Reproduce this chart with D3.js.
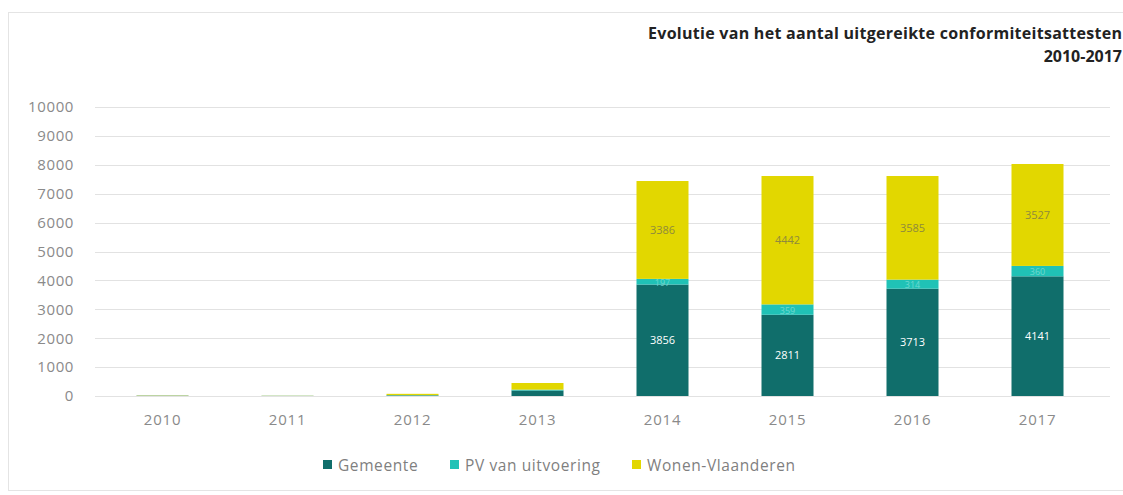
<!DOCTYPE html>
<html>
<head>
<meta charset="utf-8">
<script src="https://cdn.jsdelivr.net/npm/d3@7"></script>
<style>
  body { margin: 0; background: #fff; }
  svg { display: block; font-family: 'Open Sans', sans-serif; }
</style>
</head>
<body>
<script>
const years = ['2010', '2011', '2012', '2013', '2014', '2015', '2016', '2017'];
const gemeente = [10, 5, 20, 190, 3856, 2811, 3713, 4141];
const pvUitvoering = [2, 2, 10, 30, 197, 359, 314, 360];
const wonenVlaanderen = [8, 5, 45, 230, 3386, 4442, 3585, 3527];
const seriesNames = ['Gemeente', 'PV van uitvoering', 'Wonen-Vlaanderen'];
const yTicks = [0, 1000, 2000, 3000, 4000, 5000, 6000, 7000, 8000, 9000, 10000];

const width = 1123;
const height = 495;
const colors = ['#106e6b', '#20c2b6', '#e2d700'];
const labelColors = ['#ffffff', '#6fd8cf', '#8f8a3c'];

const rows = years.map((y, i) => ({
    year: y,
    Gemeente: gemeente[i],
    'PV van uitvoering': pvUitvoering[i],
    'Wonen-Vlaanderen': wonenVlaanderen[i]
}));

const stacked = d3.stack().keys(seriesNames)(rows);

const svg = d3.select('body')
    .append('svg')
    .attr('width', width)
    .attr('height', height);

// frame
svg.append('rect')
    .attr('x', 8.5)
    .attr('y', 12.5)
    .attr('width', 1200)
    .attr('height', 478)
    .attr('fill', 'none')
    .attr('stroke', '#e4e4e4');

const x = d3.scaleBand()
    .domain(years)
    .range([100, 1100])
    .paddingInner(0.584)
    .paddingOuter(0.292);

const y = d3.scaleLinear()
    .domain([0, 10000])
    .range([396, 107]);

// gridlines
svg.append('g')
    .selectAll('line')
    .data(yTicks)
    .join('line')
    .attr('x1', 95)
    .attr('x2', 1110)
    .attr('y1', d => Math.round(y(d)) + 0.5)
    .attr('y2', d => Math.round(y(d)) + 0.5)
    .attr('stroke', '#e2e2e2');

const yAxis = svg.append('g')
    .attr('transform', 'translate(74,0)')
    .call(d3.axisLeft(y).tickValues(yTicks).tickFormat(d3.format('d')).tickSize(0).tickPadding(0));
yAxis.select('.domain').remove();
yAxis.selectAll('text')
    .attr('fill', '#8a8a8a')
    .style('font-size', '15px')
    .style('letter-spacing', '0.6px')
    .style('font-family', "'Open Sans', sans-serif");

const xAxis = svg.append('g')
    .attr('transform', 'translate(0,396)')
    .call(d3.axisBottom(x).tickSize(0).tickPadding(18));
xAxis.select('.domain').remove();
xAxis.selectAll('text')
    .attr('fill', '#8a8a8a')
    .style('font-size', '15px')
    .style('letter-spacing', '0.8px')
    .style('font-family', "'Open Sans', sans-serif");

const layers = svg.append('g')
    .selectAll('g')
    .data(stacked)
    .join('g')
    .attr('fill', (d, i) => colors[i]);

layers.selectAll('rect')
    .data(d => d)
    .join('rect')
    .attr('x', d => x(d.data.year))
    .attr('width', x.bandwidth())
    .attr('y', d => y(d[1]))
    .attr('height', d => y(d[0]) - y(d[1]));

// value labels, only on the tall bars
stacked.forEach((s, i) => {
    svg.append('g')
        .selectAll('text')
        .data(s.filter(d => d.data.Gemeente + d.data['Wonen-Vlaanderen'] > 1000))
        .join('text')
        .attr('x', d => x(d.data.year) + x.bandwidth() / 2)
        .attr('y', d => (y(d[0]) + y(d[1])) / 2 + 4)
        .attr('text-anchor', 'middle')
        .attr('fill', labelColors[i])
        .style('font-size', i === 1 ? '9px' : '11px')
        .text(d => d[1] - d[0]);
});

// title
const title = svg.append('text')
    .attr('text-anchor', 'end')
    .attr('fill', '#222')
    .style('font-size', '16px')
    .style('font-weight', 'bold');
title.append('tspan')
    .attr('x', 1122).attr('y', 39)
    .attr('textLength', 474)
    .attr('lengthAdjust', 'spacing')
    .text('Evolutie van het aantal uitgereikte conformiteitsattesten');
title.append('tspan')
    .attr('x', 1122).attr('y', 62)
    .text('2010-2017');

// legend
const legendX = [323, 450, 632];
const legend = svg.append('g')
    .selectAll('g')
    .data(seriesNames)
    .join('g')
    .attr('transform', (d, i) => `translate(${legendX[i]},465)`);

legend.append('rect')
    .attr('x', 0)
    .attr('y', -5)
    .attr('width', 9)
    .attr('height', 9)
    .attr('fill', (d, i) => colors[i]);

legend.append('text')
    .attr('x', 15)
    .attr('y', 5.5)
    .attr('fill', '#7f7f7f')
    .style('font-size', '15.5px')
    .style('letter-spacing', '0.6px')
    .text(d => d);
</script>
</body>
</html>
